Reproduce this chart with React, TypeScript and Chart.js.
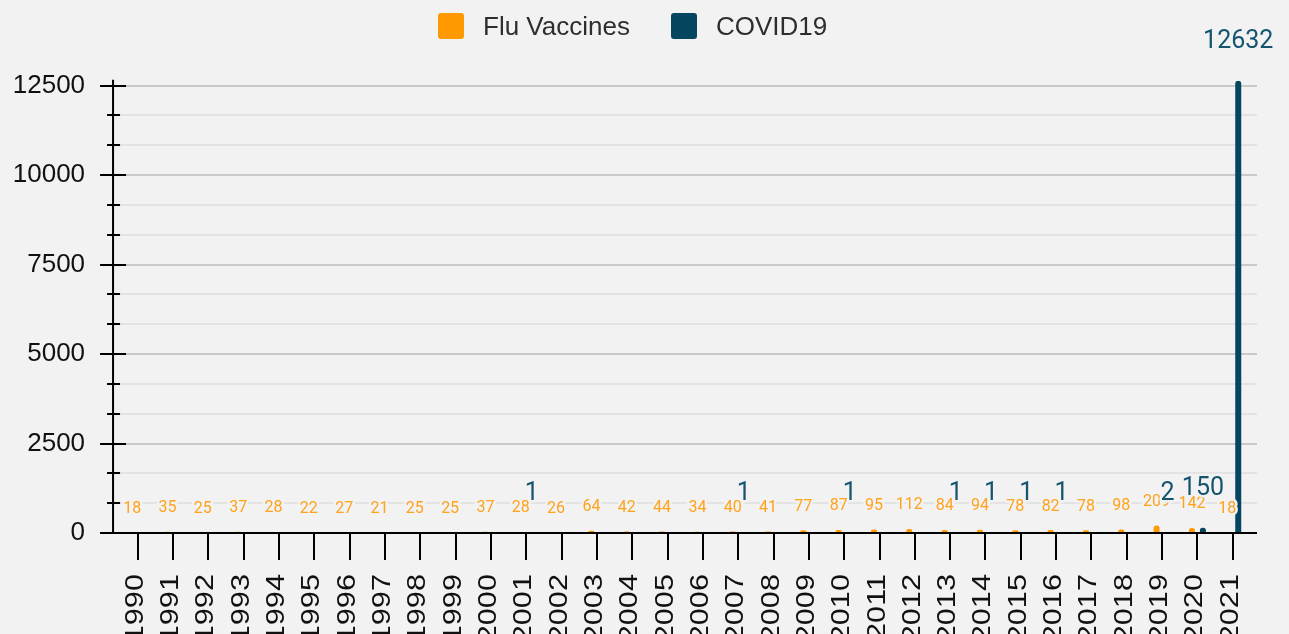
import React, { useEffect, useRef } from 'react';
import { Chart, registerables } from 'chart.js';

Chart.register(...registerables);

const years = [
  '1990', '1991', '1992', '1993', '1994', '1995', '1996', '1997', '1998', '1999',
  '2000', '2001', '2002', '2003', '2004', '2005', '2006', '2007', '2008', '2009',
  '2010', '2011', '2012', '2013', '2014', '2015', '2016', '2017', '2018', '2019',
  '2020', '2021',
];

const fluVaccines = [
  18, 35, 25, 37, 28, 22, 27, 21, 25, 25,
  37, 28, 26, 64, 42, 44, 34, 40, 41, 77,
  87, 95, 112, 84, 94, 78, 82, 78, 98, 209,
  142, 18,
];

const covid19: (number | null)[] = [
  null, null, null, null, null, null, null, null, null, null,
  null, 1, null, null, null, null, null, 1, null, null,
  1, null, null, 1, 1, 1, 1, null, null, 2,
  150, 12632,
];

const seriesNames = ['Flu Vaccines', 'COVID19'];
const yTickLabels = [0, 2500, 5000, 7500, 10000, 12500];
const yMajorStep = 2500;
const yMinorPerMajor = 3;
const yMax = 12632;

const BG = '#f2f2f2';
const FLU = '#ff9900';
const FLU_LABEL = '#ffa21c';
const COVID = '#05455f';
const COVID_LABEL = '#15546f';

const customAxes = {
  id: 'customAxes',
  beforeDatasetsDraw(chart: any) {
    const { ctx, chartArea, scales } = chart;
    const y = scales.y;
    const axisX = chartArea.left - 7;
    const right = chartArea.right + 6.6;
    const minorStep = yMajorStep / yMinorPerMajor;
    ctx.save();
    for (let i = 1; i * minorStep <= y.max + 1e-6; i++) {
      const py = Math.round(y.getPixelForValue(i * minorStep));
      const major = i % yMinorPerMajor === 0;
      ctx.strokeStyle = major ? '#c9c9c9' : '#e3e3e3';
      ctx.lineWidth = 2;
      ctx.beginPath();
      ctx.moveTo(axisX, py);
      ctx.lineTo(right, py);
      ctx.stroke();
    }
    ctx.restore();
  },
  afterDatasetsDraw(chart: any) {
    const { ctx, chartArea, scales } = chart;
    const x = scales.x;
    const y = scales.y;
    const axisX = chartArea.left - 7;
    const right = chartArea.right + 6.6;
    const zeroY = Math.round(y.getPixelForValue(0));
    const minorStep = yMajorStep / yMinorPerMajor;
    ctx.save();
    ctx.strokeStyle = '#000';
    ctx.lineWidth = 2;
    ctx.beginPath();
    ctx.moveTo(axisX, chartArea.top - 1);
    ctx.lineTo(axisX, zeroY);
    ctx.moveTo(axisX - 13, zeroY);
    ctx.lineTo(right, zeroY);
    ctx.stroke();
    for (let i = 1; i * minorStep <= y.max + 1e-6; i++) {
      const py = Math.round(y.getPixelForValue(i * minorStep));
      const major = i % yMinorPerMajor === 0;
      ctx.beginPath();
      if (major) {
        ctx.moveTo(axisX - 13, py);
        ctx.lineTo(axisX + 13, py);
      } else {
        ctx.moveTo(axisX - 6, py);
        ctx.lineTo(axisX + 7, py);
      }
      ctx.stroke();
    }
    ctx.fillStyle = '#111';
    ctx.font = '26px "Liberation Sans", Arial, sans-serif';
    ctx.textAlign = 'right';
    ctx.textBaseline = 'middle';
    x.ticks.forEach((t: any, i: number) => {
      const px = Math.round(x.getPixelForTick(i));
      ctx.beginPath();
      ctx.moveTo(px, zeroY);
      ctx.lineTo(px, zeroY + 27);
      ctx.stroke();
      ctx.save();
      ctx.translate(px - 2, zeroY + 41);
      ctx.rotate(-Math.PI / 2);
      ctx.scale(1.18, 1);
      ctx.fillText(String(years[i]), 0, 0);
      ctx.restore();
    });
    ctx.restore();

    const labelSpecs = [
      { font: '16px Roboto, sans-serif', color: FLU_LABEL, offset: 23.5 },
      { font: '25px Roboto, sans-serif', color: COVID_LABEL, offset: 39 },
    ];
    ctx.save();
    ctx.textAlign = 'center';
    ctx.textBaseline = 'middle';
    ctx.lineJoin = 'round';
    chart.data.datasets.forEach((ds: any, di: number) => {
      const meta = chart.getDatasetMeta(di);
      const spec = labelSpecs[di];
      ctx.font = spec.font;
      meta.data.forEach((el: any, i: number) => {
        const v = ds.data[i];
        if (v === null || v === undefined) return;
        const txt = String(v);
        const lx = el.x;
        const ly = el.y - spec.offset;
        ctx.strokeStyle = BG;
        ctx.lineWidth = 5;
        ctx.strokeText(txt, lx, ly);
        ctx.fillStyle = spec.color;
        ctx.fillText(txt, lx, ly);
      });
    });
    ctx.restore();
  },
};

export default function App() {
  const canvasRef = useRef<HTMLCanvasElement | null>(null);

  useEffect(() => {
    if (!canvasRef.current) return;
    const chart = new Chart(canvasRef.current, {
      type: 'bar',
      data: {
        labels: years,
        datasets: [
          {
            label: seriesNames[0],
            data: fluVaccines,
            backgroundColor: FLU,
            borderRadius: 3,
            categoryPercentage: 0.623,
            barPercentage: 0.545,
          },
          {
            label: seriesNames[1],
            data: covid19,
            backgroundColor: COVID,
            borderRadius: 3,
            categoryPercentage: 0.623,
            barPercentage: 0.545,
          },
        ],
      },
      options: {
        responsive: false,
        devicePixelRatio: 1,
        animation: false,
        layout: { padding: { top: 80.8, right: 38.6, left: 0, bottom: 0 } },
        plugins: {
          legend: { display: false },
          tooltip: { enabled: false },
        },
        scales: {
          x: {
            type: 'category',
            offset: true,
            grid: { display: false, offset: false },
            border: { display: false },
            ticks: { display: false },
            afterFit: (s: any) => { s.height = 101; },
          },
          y: {
            min: 0,
            max: yMax,
            grid: { display: false, drawTicks: false },
            border: { display: false },
            afterBuildTicks: (s: any) => {
              s.ticks = yTickLabels.map((v) => ({ value: v }));
            },
            ticks: {
              padding: 35,
              color: '#111',
              font: { family: '"Liberation Sans", Arial, sans-serif', size: 26 },
              callback: (v: any) => String(v),
            },
            afterFit: (s: any) => { s.width = 120.05; },
          },
        },
      },
      plugins: [customAxes],
    } as any);
    return () => chart.destroy();
  }, []);

  const legendText: React.CSSProperties = {
    position: 'absolute',
    top: 13,
    height: 26,
    lineHeight: '26px',
    fontFamily: '"Liberation Sans", Arial, sans-serif',
    fontSize: 26,
    color: '#2e2e2e',
    whiteSpace: 'nowrap',
  };
  const box = (left: number, color: string): React.CSSProperties => ({
    position: 'absolute',
    left,
    top: 13,
    width: 26,
    height: 26,
    borderRadius: 3,
    background: color,
  });

  return (
    <div style={{ position: 'fixed', left: 0, top: 0, width: 1289, height: 634, background: BG, overflow: 'hidden' }}>
      <canvas ref={canvasRef} width={1289} height={634} style={{ position: 'absolute', left: 0, top: 0, display: 'block' }} />
      <div style={box(438, FLU)} />
      <div style={{ ...legendText, left: 483 }}>{seriesNames[0]}</div>
      <div style={box(671, COVID)} />
      <div style={{ ...legendText, left: 716 }}>{seriesNames[1]}</div>
    </div>
  );
}
